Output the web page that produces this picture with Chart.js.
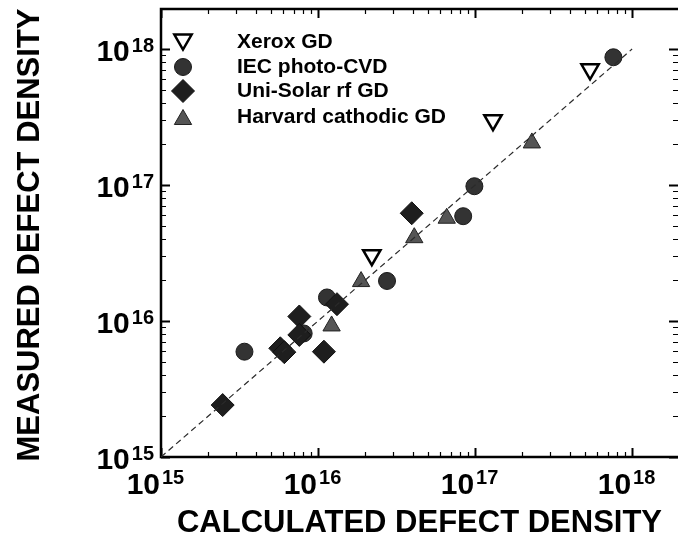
<!DOCTYPE html>
<html>
<head>
<meta charset="utf-8">
<script src="https://cdn.jsdelivr.net/npm/chart.js@4.4.0/dist/chart.umd.min.js"></script>
<style>
  html, body { margin: 0; padding: 0; background: #fff; }
</style>
</head>
<body>
<canvas id="defectChart" width="678" height="548"></canvas>
<script>
// Dados (densidade de defeitos, cm^-3)
const xeroxX = [2.2e16, 1.3e17, 5.4e17];
const xeroxY = [3.05e16, 3.0e17, 7.1e17];

const iecX = [3.4e15, 8.1e15, 1.14e16, 2.75e16, 8.4e16, 9.9e16, 7.6e17];
const iecY = [5.95e15, 8.1e15, 1.49e16, 1.97e16, 5.9e16, 9.8e16, 8.7e17];

const uniX = [2.47e15, 5.75e15, 6.1e15, 7.6e15, 7.6e15, 1.09e16, 1.32e16, 3.95e16];
const uniY = [2.41e15, 6.3e15, 5.9e15, 1.08e16, 7.9e15, 5.95e15, 1.33e16, 6.2e16];

const harvX = [1.22e16, 1.88e16, 4.1e16, 6.6e16, 2.3e17];
const harvY = [9.2e15, 1.95e16, 4.1e16, 5.7e16, 2.04e17];

// linha tracejada y = x
const fitX = [1e15, 1e18];
const fitY = [1e15, 1e18];

const decades = [15, 16, 17, 18];
const axisMin = 1e15;
const axisMaxX = 1.96e18;
const axisMaxY = 1.97e18;

const xTitle = 'CALCULATED DEFECT DENSITY';
const yTitle = 'MEASURED DEFECT DENSITY';

const FONT = '"Liberation Sans", Arial, Helvetica, sans-serif';

function pts(xs, ys) {
    return xs.map((x, i) => ({ x: x, y: ys[i] }));
}

const series = [
    { label: 'Xerox GD', style: 'triangle', rotation: 180, radius: 10, fill: '#ffffff', stroke: '#000000', bw: 2.5 },
    { label: 'IEC photo-CVD', style: 'circle', rotation: 0, radius: 8.5, fill: '#333333', stroke: '#1a1a1a', bw: 1 },
    { label: 'Uni-Solar rf GD', style: 'rectRot', rotation: 0, radius: 11.5, fill: '#1e1e1e', stroke: '#111111', bw: 1 },
    { label: 'Harvard cathodic GD', style: 'triangle', rotation: 0, radius: 10, fill: '#555555', stroke: '#222222', bw: 1 }
];

function markerDataset(s, data, order) {
    return {
        label: s.label,
        data: data,
        pointStyle: s.style,
        pointRotation: s.rotation,
        pointRadius: s.radius,
        backgroundColor: s.fill,
        borderColor: s.stroke,
        borderWidth: s.bw,
        order: order
    };
}

function drawMarker(ctx, s, x, y) {
    ctx.save();
    ctx.fillStyle = s.fill;
    ctx.strokeStyle = s.stroke;
    ctx.lineWidth = s.bw;
    if (Chart.helpers && Chart.helpers.drawPoint) {
        Chart.helpers.drawPoint(ctx, { pointStyle: s.style, radius: s.radius, rotation: s.rotation, borderWidth: s.bw }, x, y);
    }
    ctx.restore();
}

// texto "10" com expoente
function drawPow(ctx, exp, x, y, mode) {
    ctx.save();
    ctx.fillStyle = '#000';
    ctx.textBaseline = 'alphabetic';
    if (mode === 'x') {
        ctx.font = 'bold 30px ' + FONT;
        ctx.textAlign = 'right';
        ctx.fillText('10', x - 1, 494);
        ctx.font = 'bold 20px ' + FONT;
        ctx.textAlign = 'left';
        ctx.fillText(String(exp), x + 1, 484);
    } else {
        ctx.font = 'bold 20px ' + FONT;
        ctx.textAlign = 'right';
        ctx.fillText(String(exp), 154, y + 3);
        const w = ctx.measureText(String(exp)).width;
        ctx.font = 'bold 30px ' + FONT;
        ctx.fillText('10', 152 - w, y + 12);
    }
    ctx.restore();
}

const framePlugin = {
    id: 'framePlugin',
    beforeDatasetsDraw(chart) {
        const ctx = chart.ctx;
        const a = chart.chartArea;
        const xs = chart.scales.x;
        const ys = chart.scales.y;
        ctx.save();
        ctx.strokeStyle = '#000';
        // marcas internas (log)
        decades.forEach(d => {
            for (let m = 1; m <= 9; m++) {
                const v = m * Math.pow(10, d);
                const major = m === 1;
                const len = major ? 9 : 5;
                ctx.lineWidth = major ? 2 : 1.2;
                if (v >= axisMin && v <= axisMaxX) {
                    const px = Math.round(xs.getPixelForValue(v)) + 0.5;
                    ctx.beginPath();
                    ctx.moveTo(px, a.bottom); ctx.lineTo(px, a.bottom - len);
                    ctx.moveTo(px, a.top); ctx.lineTo(px, a.top + len);
                    ctx.stroke();
                }
                if (v >= axisMin && v <= axisMaxY) {
                    const py = Math.round(ys.getPixelForValue(v)) + 0.5;
                    ctx.beginPath();
                    ctx.moveTo(a.left, py); ctx.lineTo(a.left + len, py);
                    ctx.moveTo(a.right, py); ctx.lineTo(a.right - len, py);
                    ctx.stroke();
                }
            }
        });
        // moldura
        ctx.lineWidth = 2.5;
        ctx.beginPath();
        ctx.moveTo(a.right, a.top);
        ctx.lineTo(a.left, a.top);
        ctx.lineTo(a.left, a.bottom);
        ctx.lineTo(a.right, a.bottom);
        ctx.stroke();
        ctx.restore();
    },
    afterDraw(chart) {
        const ctx = chart.ctx;
        const a = chart.chartArea;
        const xs = chart.scales.x;
        const ys = chart.scales.y;

        decades.forEach(d => {
            const v = Math.pow(10, d);
            drawPow(ctx, d, xs.getPixelForValue(v), 0, 'x');
            drawPow(ctx, d, 0, ys.getPixelForValue(v), 'y');
        });

        // títulos dos eixos
        ctx.save();
        ctx.fillStyle = '#000';
        ctx.font = 'bold 31px ' + FONT;
        ctx.textAlign = 'center';
        ctx.textBaseline = 'alphabetic';
        ctx.fillText(xTitle, (a.left + a.right) / 2, 532);
        ctx.translate(39, (a.top + a.bottom) / 2 + 2);
        ctx.rotate(-Math.PI / 2);
        ctx.fillText(yTitle, 0, 0);
        ctx.restore();

        // legenda
        const rowsY = [42, 67, 91, 117];
        const baseY = [48, 73, 97, 123];
        series.forEach((s, i) => {
            let my = rowsY[i];
            if (s.style === 'triangle') my += (s.rotation === 180 ? -s.radius / 4 : s.radius / 4);
            drawMarker(ctx, s, 183, my);
            ctx.save();
            ctx.fillStyle = '#000';
            ctx.font = 'bold 21px ' + FONT;
            ctx.textAlign = 'left';
            ctx.fillText(s.label, 237, baseY[i]);
            ctx.restore();
        });
    }
};

const ctx = document.getElementById('defectChart').getContext('2d');
const chart = new Chart(ctx, {
    type: 'scatter',
    data: {
        datasets: [
            {
                label: 'y = x',
                type: 'line',
                data: pts(fitX, fitY),
                borderColor: '#2a2a2a',
                borderWidth: 1.2,
                borderDash: [6, 4],
                pointRadius: 0,
                fill: false,
                order: 0
            },
            markerDataset(series[2], pts(uniX, uniY), 1),
            markerDataset(series[3], pts(harvX, harvY), 2),
            markerDataset(series[0], pts(xeroxX, xeroxY), 3),
            markerDataset(series[1], pts(iecX, iecY), 4)
        ]
    },
    options: {
        responsive: false,
        animation: false,
        events: [],
        layout: { autoPadding: false, padding: { left: 161, top: 9, right: 0, bottom: 91 } },
        scales: {
            x: { type: 'logarithmic', min: axisMin, max: axisMaxX, display: false },
            y: { type: 'logarithmic', min: axisMin, max: axisMaxY, display: false }
        },
        plugins: {
            legend: { display: false },
            tooltip: { enabled: false }
        }
    },
    plugins: [framePlugin]
});
</script>
</body>
</html>
